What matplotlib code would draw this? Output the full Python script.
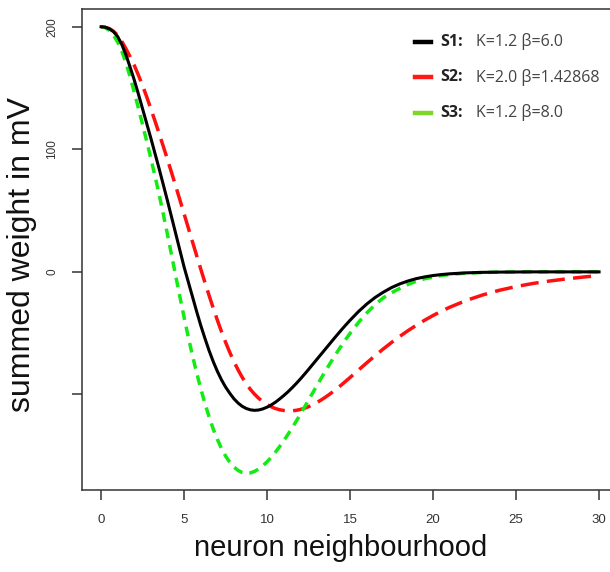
import numpy as np
import matplotlib.pyplot as plt

plt.rcParams['font.family'] = ['Liberation Sans', 'DejaVu Sans']
plt.rcParams['lines.scale_dashes'] = False

# neighbourhood distance: quarter steps up to 15, half steps to 21, then whole steps
dist = np.concatenate([np.arange(0, 15, 0.25), np.arange(15, 21.5, 0.5), np.arange(22, 31, 1)])

s1 = [200, 199.6, 198.3, 196, 192, 185.5, 177, 167, 156.5, 145,
      133, 121, 109, 96.5, 84, 71, 58, 44.5, 31, 17.5,
      4, -8, -20, -32, -43.5, -54, -64, -73, -81, -88,
      -94, -99, -103.5, -107, -109.7, -111.5, -112.6, -113, -112.7, -111.8,
      -110.4, -108.6, -106.4, -103.8, -101, -98, -94.7, -91.2, -87.5, -83.6,
      -79.6, -75.5, -71.4, -67.3, -63.2, -59.1, -55, -51, -47, -43.2,
      -39.5, -32.5, -26.3, -21, -16.6, -12.8, -9.8, -7.4, -5.5, -4.1, -3, -2.2, -1.6,
      -0.8, -0.4, -0.2, -0.1, 0, 0, 0, 0, 0]
s2 = [200, 199.6, 198.5, 196.3, 193, 188, 182, 175.5, 168.5, 160.5,
      152, 142.8, 133, 123, 112.8, 102.3, 91.7, 80.8, 69.8, 58.6,
      47.4, 36.1, 24.8, 13.6, 2.5, -8.4, -19, -29.3, -39.2, -48.6,
      -57.4, -65.6, -73.1, -79.9, -86, -91.4, -96, -99.9, -103.2, -106,
      -108.3, -110.1, -111.5, -112.5, -113.1, -113.4, -113.4, -113, -112.3, -111.3,
      -110, -108.4, -106.6, -104.6, -102.4, -100, -97.5, -94.8, -92, -89.1,
      -86.2, -80.2, -74.3, -68.5, -62.9, -57.6, -52.6, -47.9, -43.5, -39.4, -35.6, -32.1, -28.9,
      -23.3, -18.8, -15, -12, -9.5, -7.5, -5.8, -4.3, -3]
s3 = [200, 199.3, 197, 193, 187.5, 180, 170.5, 159, 146.5, 133.5,
      120, 106.5, 92.5, 78, 63, 47, 30.5, 13.5, -3.5, -20.5,
      -37, -53, -68, -82, -95, -107, -118, -128, -136.5, -144,
      -150.3, -155.3, -159.2, -162, -163.7, -164.3, -164, -162.8, -160.8, -158.2,
      -155, -151.3, -147.2, -142.7, -137.9, -132.8, -127.5, -122, -116.3, -110.5,
      -104.6, -98.7, -92.8, -87, -81.3, -75.7, -70.2, -64.9, -59.8, -54.9,
      -50.2, -41.4, -33.6, -26.9, -21.2, -17, -13.5, -10.2, -7.6, -5.6, -4.2, -3, -2.1,
      -1, -0.5, -0.2, -0.1, 0, 0, 0, 0, 0]

series = ['S1:', 'S2:', 'S3:']
params = ['K=1.2 \u03b2=6.0', 'K=2.0 \u03b2=1.42868', 'K=1.2 \u03b2=8.0']
legend_colors = ['black', '#ff1a1a', '#7fd62a']

fig = plt.figure(figsize=(6.1, 5.72), dpi=100)
ax = fig.add_axes([82 / 610, 1 - 490 / 572, 528 / 610, 481 / 572])

ax.plot(dist, s2, color='#ff1010', lw=2.5, dashes=(13, 6))
ax.plot(dist, s3, color='#14ea14', lw=2.5, dashes=(7, 5))
ax.plot(dist, s1, color='black', lw=2.2)

ax.set_xlim(-1.15, 30.66)
ax.set_ylim(-178, 214.5)
ax.set_xticks([0, 5, 10, 15, 20, 25, 30])
ax.set_yticks([-100, 0, 100, 200])
ax.set_yticklabels(['', '0', '100', '200'], rotation=90, va='center')
ax.tick_params(axis='x', direction='out', length=7, width=1.1, color='#333333',
               labelsize=9.5, labelcolor='#333333', pad=10)
ax.tick_params(axis='y', direction='out', length=7, width=1.1, color='#333333',
               labelsize=8.5, labelcolor='#333333', pad=10)
ax.spines['right'].set_visible(False)
for side in ['left', 'top', 'bottom']:
    ax.spines[side].set_color('#333333')
    ax.spines[side].set_linewidth(1.1)

ax.set_xlabel('neuron neighbourhood', fontsize=21, color='#111111', va='top')
ax.xaxis.set_label_coords(0.49, -0.092)
ax.set_ylabel('summed weight in mV', fontsize=23, color='#111111')
ax.yaxis.set_label_coords(-0.085, 0.49)

# hand-made legend in the upper right
for i in range(3):
    yp = 1 - (41.7 + 35.5 * i) / 572
    fig.add_artist(plt.Line2D([415 / 610, 431 / 610], [yp, yp], color=legend_colors[i],
                              lw=3.2, transform=fig.transFigure))
    fig.text(440 / 610, yp, series[i], fontsize=11.5, fontweight='bold',
             family='Open Sans', color='#222222', va='center')
    fig.text(476 / 610, yp, params[i], fontsize=11.5, family='Open Sans',
             color='#444444', va='center')

fig.savefig('out.png', dpi=100)
